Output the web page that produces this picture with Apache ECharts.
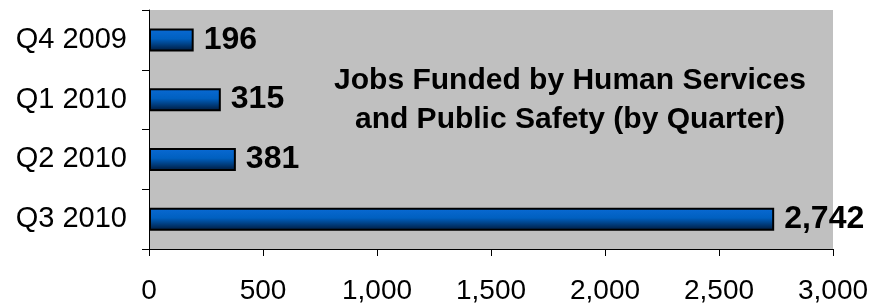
<!DOCTYPE html>
<html>
<head>
<meta charset="utf-8">
<script src="https://cdn.jsdelivr.net/npm/echarts@6/dist/echarts.min.js"></script>
<style>html,body{margin:0;padding:0;background:#fff}#c{width:888px;height:303px}</style>
</head>
<body>
<div id="c"></div>
<script>
const categories = ['Q4 2009', 'Q1 2010', 'Q2 2010', 'Q3 2010'];
const jobs = [196, 315, 381, 2742];
const xTicks = [0, 500, 1000, 1500, 2000, 2500, 3000];
const titleLines = ['Jobs Funded by Human Services', 'and Public Safety (by Quarter)'];

const FONT = '"Liberation Sans", Arial, sans-serif';
const chart = echarts.init(document.getElementById('c'), null, {renderer: 'canvas'});
chart.setOption({
  animation: false,
  backgroundColor: '#ffffff',
  title: {
    text: titleLines.join('\n'),
    left: 565,
    top: 56,
    textAlign: 'center',
    textStyle: {fontFamily: FONT, fontSize: 30, fontWeight: 'bold', color: '#000', lineHeight: 39}
  },
  grid: {
    left: 149, right: 55, top: 10, bottom: 54,
    containLabel: false, outerBoundsMode: 'none',
    show: true, backgroundColor: '#c0c0c0', borderWidth: 0
  },
  xAxis: {
    type: 'value',
    min: xTicks[0],
    max: xTicks[xTicks.length - 1],
    interval: xTicks[1] - xTicks[0],
    splitLine: {show: false},
    axisLine: {show: true, lineStyle: {color: '#000', width: 1}},
    axisTick: {show: true, length: 7, lineStyle: {color: '#000'}},
    axisLabel: {
      margin: 28,
      fontFamily: FONT, fontSize: 28, color: '#000',
      formatter: v => v.toLocaleString('en-US')
    }
  },
  yAxis: {
    type: 'category',
    data: categories,
    inverse: true,
    axisLine: {show: true, lineStyle: {color: '#000', width: 1}},
    axisTick: {show: true, length: 7, lineStyle: {color: '#000'}},
    axisLabel: {margin: 22, fontFamily: FONT, fontSize: 29, color: '#000'}
  },
  series: [{
    type: 'bar',
    data: jobs,
    barWidth: 23,
    itemStyle: {
      borderColor: '#000',
      borderWidth: 2,
      color: new echarts.graphic.LinearGradient(0, 0, 0, 1, [
        {offset: 0, color: '#0a6ad4'},
        {offset: 0.45, color: '#0060c0'},
        {offset: 1, color: '#001838'}
      ])
    },
    label: {
      show: true,
      position: 'right',
      distance: 10,
      fontFamily: FONT, fontSize: 32, fontWeight: 'bold', color: '#000',
      formatter: p => p.value.toLocaleString('en-US')
    }
  }]
});
</script>
</body>
</html>
